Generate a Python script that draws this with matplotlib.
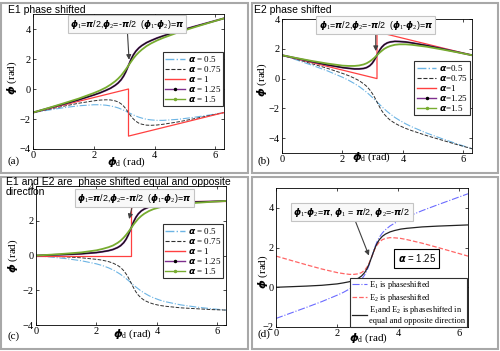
import numpy as np
import matplotlib
matplotlib.use("Agg")
import matplotlib.pyplot as plt
from matplotlib.patches import Rectangle
from matplotlib.lines import Line2D

plt.rcParams["font.family"] = ["Liberation Serif", "DejaVu Serif"]
plt.rcParams["mathtext.fontset"] = "custom"
plt.rcParams["mathtext.rm"] = "Liberation Serif"
plt.rcParams["mathtext.it"] = "DejaVu Sans:italic:bold"
plt.rcParams["mathtext.bf"] = "DejaVu Sans:bold"

# phase difference phi_d (rad)
theta = [0, 0.5, 1.0, 1.5, 2.0, 2.2, 2.4, 2.55, 2.7, 2.8, 2.9, 2.98, 3.05, 3.1416,
         3.2332, 3.3032, 3.3832, 3.4832, 3.5832, 3.7332, 3.8832, 4.0832, 4.2832,
         4.7832, 5.2832, 5.7832, 6.2832]
jump_x = [0, 3.1416, 3.1416, 6.2832]

# (a) E1 phase shifted
a_05 = [-1.57, -1.41, -1.25, -1.12, -1.05, -1.05, -1.08, -1.13, -1.20, -1.26, -1.34, -1.41, -1.48, -1.57,
        -1.66, -1.73, -1.80, -1.88, -1.94, -2.02, -2.06, -2.09, -2.09, -2.02, -1.89, -1.74, -1.57]
a_075 = [-1.57, -1.36, -1.15, -0.95, -0.79, -0.74, -0.72, -0.73, -0.79, -0.86, -0.99, -1.14, -1.31, -1.57,
         -1.84, -2.00, -2.15, -2.28, -2.35, -2.41, -2.42, -2.40, -2.35, -2.19, -1.99, -1.78, -1.57]
a_1 = [-1.57, 0, -3.14, -1.57]
a_125 = [-1.57, -1.29, -1.01, -0.72, -0.40, -0.26, -0.09, 0.05, 0.24, 0.40, 0.62, 0.86, 1.13, 1.57,
         2.01, 2.28, 2.52, 2.74, 2.90, 3.09, 3.23, 3.40, 3.54, 3.86, 4.15, 4.43, 4.71]
a_15 = [-1.57, -1.27, -0.96, -0.64, -0.27, -0.10, 0.10, 0.29, 0.51, 0.69, 0.90, 1.11, 1.30, 1.57,
        1.84, 2.04, 2.24, 2.45, 2.63, 2.86, 3.04, 3.24, 3.41, 3.78, 4.10, 4.41, 4.71]

# (b) E2 phase shifted
b_05 = [1.57, 1.24, 0.89, 0.52, 0.09, -0.11, -0.34, -0.53, -0.76, -0.92, -1.10, -1.25, -1.39, -1.57,
        -1.75, -1.89, -2.04, -2.22, -2.38, -2.61, -2.80, -3.03, -3.23, -3.66, -4.03, -4.38, -4.71]
b_075 = [1.57, 1.29, 0.99, 0.69, 0.35, 0.20, 0.02, -0.14, -0.35, -0.52, -0.75, -0.98, -1.21, -1.57,
         -1.93, -2.17, -2.40, -2.62, -2.80, -3.00, -3.16, -3.34, -3.49, -3.83, -4.13, -4.43, -4.71]
b_1 = [1.57, 0, 3.14, 1.57]
b_125 = [1.57, 1.35, 1.13, 0.92, 0.74, 0.69, 0.65, 0.65, 0.68, 0.74, 0.86, 1.02, 1.23, 1.57,
         1.92, 2.12, 2.28, 2.40, 2.46, 2.50, 2.49, 2.46, 2.40, 2.22, 2.01, 1.79, 1.57]
b_15 = [1.57, 1.37, 1.18, 1.01, 0.87, 0.85, 0.85, 0.88, 0.95, 1.03, 1.15, 1.27, 1.39, 1.57,
        1.75, 1.87, 2.00, 2.11, 2.19, 2.27, 2.30, 2.30, 2.27, 2.14, 1.96, 1.77, 1.57]

# (c) E1 and E2 shifted in equal and opposite direction
c_05 = [0, -0.09, -0.18, -0.30, -0.48, -0.58, -0.71, -0.83, -0.98, -1.09, -1.22, -1.33, -1.43, -1.57,
        -1.71, -1.81, -1.92, -2.05, -2.16, -2.31, -2.43, -2.56, -2.66, -2.84, -2.96, -3.06, -3.14]
c_075 = [0, -0.04, -0.08, -0.13, -0.22, -0.27, -0.35, -0.44, -0.57, -0.69, -0.87, -1.06, -1.26, -1.57,
         -1.88, -2.09, -2.28, -2.45, -2.58, -2.70, -2.79, -2.87, -2.92, -3.01, -3.06, -3.11, -3.14]
c_1 = [0, 0, 3.14, 3.14]
c_125 = [0, 0.03, 0.06, 0.10, 0.17, 0.22, 0.28, 0.35, 0.46, 0.57, 0.74, 0.94, 1.18, 1.57,
         1.96, 2.20, 2.40, 2.57, 2.68, 2.79, 2.86, 2.93, 2.97, 3.04, 3.08, 3.11, 3.14]
c_15 = [0, 0.05, 0.11, 0.18, 0.30, 0.38, 0.48, 0.58, 0.73, 0.86, 1.03, 1.19, 1.35, 1.57,
        1.80, 1.95, 2.12, 2.28, 2.41, 2.56, 2.67, 2.77, 2.84, 2.96, 3.03, 3.09, 3.14]

alpha_labels = ["0.5", "0.75", "1", "1.25", "1.5"]

fig = plt.figure(figsize=(5, 3.51), dpi=100)

# panel frames
for x0, y0, w, h in [(0.002, 0.507, 0.494, 0.484), (0.504, 0.507, 0.492, 0.484),
                     (0.002, 0.006, 0.494, 0.49), (0.504, 0.006, 0.492, 0.49)]:
    fig.add_artist(Rectangle((x0, y0), w, h, transform=fig.transFigure, fill=False,
                             ec="#a8a8a8", lw=1.5))

axa = fig.add_axes([0.066, 0.5755, 0.382, 0.3846])
axb = fig.add_axes([0.564, 0.564, 0.38, 0.3818])
axc = fig.add_axes([0.072, 0.074, 0.38, 0.396])
axd = fig.add_axes([0.552, 0.0684, 0.384, 0.396])

ann = r"$\phi_1$=$\pi$/2,$\phi_2$=-$\pi$/2  ($\phi_1$-$\phi_2$)=$\pi$"
box = dict(boxstyle="square,pad=0.25", fc="#f8f8f8", ec="#c4c4c4", lw=0.8)
arrow = dict(arrowstyle="-|>", color="#404040", lw=0.8, mutation_scale=7, shrinkA=0, shrinkB=0)


def alpha_panel(ax, s05, s075, s1, s125, s15, ylim, fmt, leg_anchor, ann_xy, ann_txt):
    ax.plot(theta, s05, color="#6cb4e4", ls="-.", lw=0.8)
    ax.plot(theta, s075, color="#303030", ls="--", lw=0.7)
    ax.plot(jump_x, s1, color="#ff4040", lw=0.9)
    ax.plot(theta, s125, color="#7e2f8e", lw=1.4)
    ax.plot(theta, s125, color="#111111", lw=0.8)
    ax.plot(theta, s15, color="#77ac30", lw=1.3)
    handles = [Line2D([], [], color="#6cb4e4", ls="-.", lw=1.0),
               Line2D([], [], color="#303030", ls="--", lw=0.8),
               Line2D([], [], color="#ff4040", lw=1.0),
               Line2D([], [], color="#7e2f8e", lw=1.0, marker=".", ms=3, mfc="k", mec="k", markevery=[1]),
               Line2D([], [], color="#77ac30", lw=1.0, marker=".", ms=3, markevery=[1])]
    labels = [fmt % v for v in alpha_labels]
    leg = ax.legend(handles, labels, loc="upper right", bbox_to_anchor=leg_anchor,
                    fontsize=6.5, handlelength=2.2, handletextpad=0.3, labelspacing=0.0,
                    borderpad=0.25, borderaxespad=0, fancybox=False, framealpha=1,
                    edgecolor="#303030")
    leg.get_frame().set_linewidth(0.8)
    ax.annotate(ann, xy=ann_xy, xytext=ann_txt, ha="center", va="center", fontsize=6.4,
                family="Liberation Sans", bbox=box, arrowprops=arrow)
    ax.set_ylim(*ylim)


alpha_panel(axa, a_05, a_075, a_1, a_125, a_15, (-4, 5), r"$\alpha$ = %s",
            (0.995, 0.719), (3.16, 1.95), (3.09, 4.33))
alpha_panel(axb, b_05, b_075, b_1, b_125, b_15, (-5, 4), r"$\alpha$=%s",
            (0.99, 0.687), (3.1, 1.85), (3.1, 3.59))
alpha_panel(axc, c_05, c_075, c_1, c_125, c_15, (-4, 4), r"$\alpha$ = %s",
            (0.984, 0.727), (3.08, 2.1), (3.25, 3.3))

# (d) alpha = 1.25
axd.plot(theta, a_125, color="#6b6bff", ls="-.", lw=0.8, label="E$_1$ is phaseshifted")
axd.plot(theta, b_125, color="#ff6666", ls="--", lw=0.9, label="E$_2$ is phaseshifted")
axd.plot(theta, c_125, color="#222222", lw=0.9,
         label="E$_1$and E$_2$ is phaseshifted in\nequal and opposite direction")
axd.set_ylim(-2, 5)
leg = axd.legend(loc="lower right", bbox_to_anchor=(0.995, 0.0), fontsize=6,
                 handlelength=1.8, handletextpad=0.3, labelspacing=0.05, borderpad=0.2,
                 borderaxespad=0, fancybox=False, framealpha=1, edgecolor="#303030")
leg.get_frame().set_linewidth(0.8)
axd.annotate(r"$\phi_1$-$\phi_2$=$\pi$, $\phi_1$ = $\pi$/2, $\phi_2$=-$\pi$/2",
             xy=(3.04, 1.6), xytext=(2.48, 3.79), ha="center", va="center", fontsize=6.5,
             family="Liberation Sans", bbox=box, arrowprops=arrow)
axd.text(4.61, 1.46, r"$\alpha$ = 1.25", ha="center", va="center", fontsize=7,
         family="Liberation Sans",
         bbox=dict(boxstyle="square,pad=0.35", fc="white", ec="black", lw=0.8))

ylab_pos = [(-0.11, 0.526), (-0.105, 0.545), (-0.12, 0.496), (-0.068, 0.396)]
xlab_pos = [(0.49, -0.096), (0.47, -0.03), (0.51, -0.065), (0.48, -0.079)]
for ax, yp, xp in zip([axa, axb, axc, axd], ylab_pos, xlab_pos):
    ax.set_xlim(0, 6.2832)
    ax.set_xticks([0, 2, 4, 6])
    lo, hi = ax.get_ylim()
    ax.set_yticks(np.arange(np.ceil(lo / 2) * 2, hi + 0.01, 2))
    ax.tick_params(direction="in", length=2, width=0.5, labelsize=7.5, pad=1.5,
                   top=True, right=True)
    for sp in ax.spines.values():
        sp.set_linewidth(0.6)
    ax.text(yp[0], yp[1], r"$\phi$ (rad)", transform=ax.transAxes, rotation=90,
            ha="center", va="center", fontsize=8)
    ax.text(xp[0], xp[1], r"$\phi_{\rm d}$ (rad)", transform=ax.transAxes,
            ha="center", va="center", fontsize=8)

# panel titles and letters
fig.text(0.016, 0.972, "E1 phase shifted", family="Liberation Sans", fontsize=7.5, va="center")
fig.text(0.508, 0.972, "E2 phase shifted", family="Liberation Sans", fontsize=7.5, va="center")
fig.text(0.012, 0.497, "E1 and E2 are  phase shifted equal and opposite\ndirection",
         family="Liberation Sans", fontsize=7.5, va="top", linespacing=1.05)
for x, y, s in [(0.016, 0.541, "(a)"), (0.516, 0.541, "(b)"),
                (0.016, 0.043, "(c)"), (0.516, 0.049, "(d)")]:
    fig.text(x, y, s, fontsize=8, va="center")

fig.savefig("out.png", dpi=100)
